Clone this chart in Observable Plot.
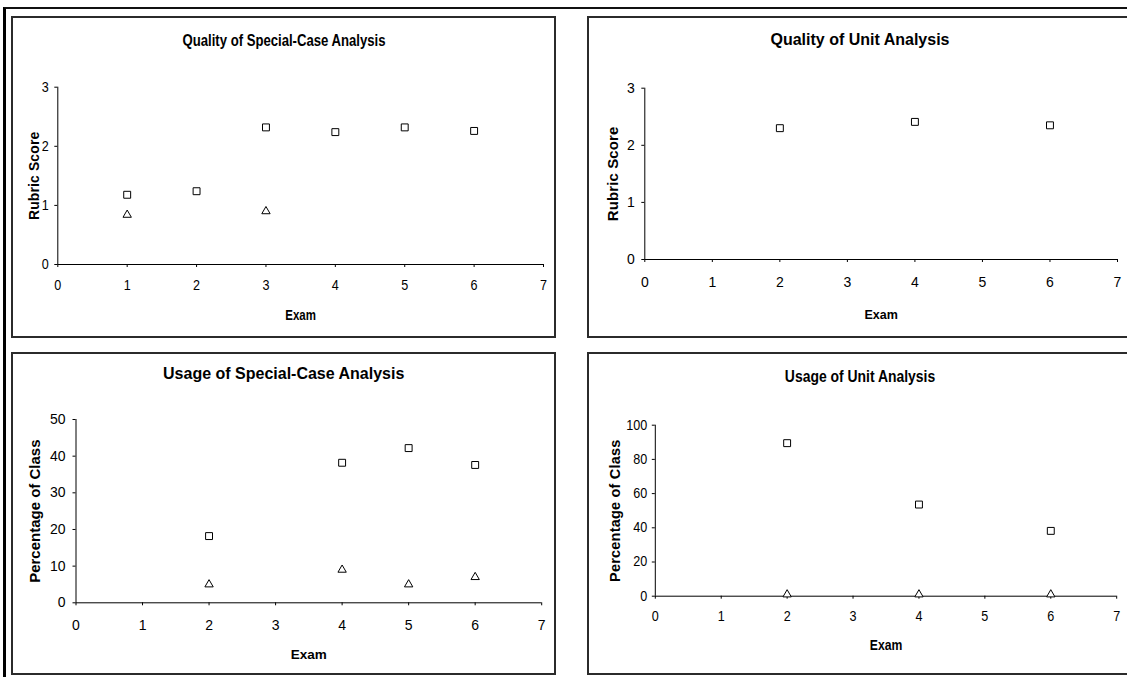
<!DOCTYPE html>
<html>
<head>
<meta charset="utf-8">
<script src="https://cdn.jsdelivr.net/npm/d3@7"></script>
<script src="https://cdn.jsdelivr.net/npm/@observablehq/plot@0.6"></script>
<style>
html, body { margin: 0; padding: 0; background: #fff; overflow: hidden; }
#root { position: relative; width: 1127px; height: 677px; overflow: hidden; background: #fff; }
.frame { position: absolute; left: 3px; top: 7px; width: 1200px; height: 700px;
  border-left: 3px solid #000; border-top: 2px solid #111; box-sizing: border-box; }
.panel { position: absolute; border: 2px solid #2b2b2b; box-sizing: border-box; background: #fff; }
.title { position: absolute; font-weight: bold; white-space: nowrap; line-height: 1; color: #000; }
</style>
</head>
<body>
<div id="root"><div class="frame"></div></div>
<script>
// ---------- DATA ----------
const examTicks = [0, 1, 2, 3, 4, 5, 6, 7];

// Quality of Special-Case Analysis
const qscSquareExam = [1, 2, 3, 4, 5, 6];
const qscSquareValue = [1.18, 1.24, 2.32, 2.24, 2.32, 2.26];
const qscTriangleExam = [1, 3];
const qscTriangleValue = [0.84, 0.90];
const qscTicks = [0, 1, 2, 3];

// Quality of Unit Analysis
const quaSquareExam = [2, 4, 6];
const quaSquareValue = [2.30, 2.41, 2.35];
const quaTriangleExam = [];
const quaTriangleValue = [];
const quaTicks = [0, 1, 2, 3];

// Usage of Special-Case Analysis
const uscSquareExam = [2, 4, 5, 6];
const uscSquareValue = [18.2, 38.2, 42.2, 37.6];
const uscTriangleExam = [2, 4, 5, 6];
const uscTriangleValue = [5, 9, 5, 7];
const uscTicks = [0, 10, 20, 30, 40, 50];

// Usage of Unit Analysis
const uuaSquareExam = [2, 4, 6];
const uuaSquareValue = [89.5, 53.6, 38.2];
const uuaTriangleExam = [2, 4, 6];
const uuaTriangleValue = [1, 1, 1];
const uuaTicks = [0, 20, 40, 60, 80, 100];

const titles = ["Quality of Special-Case Analysis", "Quality of Unit Analysis",
                "Usage of Special-Case Analysis", "Usage of Unit Analysis"];
const yLabels = ["Rubric Score", "Rubric Score", "Percentage of Class", "Percentage of Class"];
const xLabel = "Exam";

// ---------- LAYOUT (page pixels) ----------
const FONT = '"Liberation Sans", Arial, sans-serif';

const layouts = [
  { left: 11, top: 16, width: 545, height: 322, frame: [57.3, 543, 86.7, 264], squeeze: 0.82, tickSqueeze: 0.9,
    tick: 14, titleSize: 16, titleX: 283.7, titleY: 41,
    xPad: 13, yPad: 6, xLabOff: 55, yLabOff: 28.4, xLabSize: 14, yLabSize: 14, ySpacing: 0.1 },
  { left: 587, top: 16, width: 560, height: 322, frame: [644.3, 1117, 87.7, 259], squeeze: 1, tickSqueeze: 1,
    tick: 14, titleSize: 16, titleX: 860, titleY: 40,
    xPad: 15, yPad: 7, xLabOff: 59, yLabOff: 37.3, xLabSize: 12.5, yLabSize: 15, ySpacing: 0.1 },
  { left: 11, top: 352, width: 545, height: 323, frame: [75.5, 541.2, 419, 602.3], squeeze: 1, tickSqueeze: 1,
    tick: 14, titleSize: 16, titleX: 283.7, titleY: 374,
    xPad: 14, yPad: 7.5, xLabOff: 56, yLabOff: 46.6, xLabSize: 13.5, yLabSize: 15, ySpacing: 0 },
  { left: 587, top: 352, width: 560, height: 323, frame: [654.8, 1116.2, 424.7, 595.7], squeeze: 0.87, tickSqueeze: 0.9,
    tick: 14, titleSize: 16, titleX: 860, titleY: 377,
    xPad: 12, yPad: 5, xLabOff: 54, yLabOff: 45.3, xLabSize: 14, yLabSize: 14.5, ySpacing: 0.2 }
];

const panels = [
  { sqX: qscSquareExam, sqY: qscSquareValue, trX: qscTriangleExam, trY: qscTriangleValue, yTicks: qscTicks },
  { sqX: quaSquareExam, sqY: quaSquareValue, trX: quaTriangleExam, trY: quaTriangleValue, yTicks: quaTicks },
  { sqX: uscSquareExam, sqY: uscSquareValue, trX: uscTriangleExam, trY: uscTriangleValue, yTicks: uscTicks },
  { sqX: uuaSquareExam, sqY: uuaSquareValue, trX: uuaTriangleExam, trY: uuaTriangleValue, yTicks: uuaTicks }
];

const root = document.getElementById("root");

// horizontally squeeze an SVG text about its own anchor point
function squeezeText(el, s) {
  if (s === 1) return;
  const tr = el.getAttribute("transform") || "";
  const xa = el.getAttribute("x");
  const x = xa && /^-?[\d.]+$/.test(xa) ? +xa : 0;
  el.setAttribute("transform", `${tr} translate(${x},0) scale(${s},1) translate(${-x},0)`);
}

function build(d, L, i) {
  const panel = document.createElement("div");
  panel.className = "panel";
  Object.assign(panel.style, { left: L.left + "px", top: L.top + "px", width: L.width + "px", height: L.height + "px" });
  root.appendChild(panel);

  const svgW = Math.min(L.width, 1127 - L.left);
  const sq = d.sqX.map((x, k) => ({ exam: x, value: d.sqY[k] }));
  const tr = d.trX.map((x, k) => ({ exam: x, value: d.trY[k] }));

  const svg = Plot.plot({
    width: svgW,
    height: L.height,
    marginLeft: L.frame[0] - L.left,
    marginRight: svgW - (L.frame[1] - L.left),
    marginTop: L.frame[2] - L.top,
    marginBottom: L.height - (L.frame[3] - L.top),
    style: { fontFamily: FONT, fontSize: L.tick + "px", color: "#000", background: "transparent", overflow: "visible" },
    x: { domain: [examTicks[0], examTicks[examTicks.length - 1]] },
    y: { domain: [d.yTicks[0], d.yTicks[d.yTicks.length - 1]] },
    marks: [
      Plot.axisX({ ticks: examTicks, tickFormat: "d", tickSize: 3, tickPadding: L.xPad, label: xLabel,
                   labelAnchor: "center", labelOffset: L.xLabOff, labelArrow: "none" }),
      Plot.axisY({ ticks: d.yTicks, tickFormat: "d", tickSize: 3, tickPadding: L.yPad, label: yLabels[i],
                   labelAnchor: "center", labelOffset: L.yLabOff, labelArrow: "none" }),
      Plot.ruleY([d.yTicks[0]], { stroke: "#000", strokeWidth: 1 }),
      Plot.ruleX([examTicks[0]], { stroke: "#000", strokeWidth: 1 }),
      Plot.dot(sq, { x: "exam", y: "value", symbol: "square", r: 3.9, stroke: "#000", strokeWidth: 1, fill: "#fff" }),
      Plot.dot(tr, { x: "exam", y: "value", symbol: "triangle", r: 3.1, stroke: "#000", strokeWidth: 1, fill: "#fff" })
    ]
  });
  svg.style.position = "absolute";
  svg.style.left = L.left + "px";
  svg.style.top = L.top + "px";

  svg.querySelectorAll('[aria-label="y-axis label"] text, text[aria-label="y-axis label"]').forEach(t => {
    t.style.fontWeight = "bold";
    t.style.fontSize = L.yLabSize + "px"; t.style.letterSpacing = L.ySpacing + "px";
  });
  svg.querySelectorAll('[aria-label="x-axis label"] text, text[aria-label="x-axis label"]').forEach(t => {
    t.style.fontWeight = "bold"; t.style.fontSize = L.xLabSize + "px";
    squeezeText(t, L.squeeze);
  });
  svg.querySelectorAll('[aria-label="x-axis tick label"] text, [aria-label="y-axis tick label"] text').forEach(t => {
    squeezeText(t, L.tickSqueeze);
  });
  root.appendChild(svg);

  const t = document.createElement("div");
  t.className = "title";
  t.textContent = titles[i];
  Object.assign(t.style, {
    left: L.titleX + "px", top: L.titleY + "px", fontSize: L.titleSize + "px", fontFamily: FONT,
    transform: `translate(-50%, -50%) scaleX(${L.squeeze})`
  });
  root.appendChild(t);
}

panels.forEach((d, i) => build(d, layouts[i], i));
</script>
</body>
</html>
